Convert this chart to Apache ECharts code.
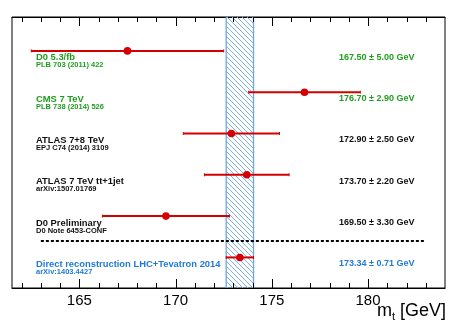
<!DOCTYPE html>
<html>
<head>
<meta charset="utf-8">
<script src="https://cdn.jsdelivr.net/npm/echarts@6/dist/echarts.min.js"></script>
<style>
  html, body { margin: 0; padding: 0; background: #fff; }
  #chart { width: 457px; height: 328px; }
</style>
</head>
<body>
<div id="chart"></div>
<script>
// measurements, top to bottom
const names = ['D0 5.3/fb', 'CMS 7 TeV', 'ATLAS 7+8 TeV', 'ATLAS 7 TeV tt+1jet', 'D0 Preliminary', 'Direct reconstruction LHC+Tevatron 2014']
const refs = ['PLB 703 (2011) 422', 'PLB 738 (2014) 526', 'EPJ C74 (2014) 3109', 'arXiv:1507.01769', 'D0 Note 6453-CONF', 'arXiv:1403.4427']
const masses = [167.5, 176.7, 172.9, 173.7, 169.5, 173.34]
const errors = [5.0, 2.9, 2.5, 2.2, 3.3, 0.71]
const labelColors = ['#1e9e1e', '#1e9e1e', '#111', '#111', '#111', '#1f7ad6']

// axis
const xMin = 161.5
const xMax = 184
const majorTicks = [165, 170, 175, 180]
const minorTicks = [162, 163, 164, 166, 167, 168, 169, 171, 172, 173, 174, 176, 177, 178, 179, 181, 182, 183]
const yMin = -0.82
const yMax = 5.74

// dotted separator above the combination
const sepRange = [163, 183]
const sepRow = 4.6

const FONT = '"Liberation Sans", Arial, Helvetica, sans-serif'
const RED = '#d40000'

/* 斜线填充 */
function makeHatch() {
  const s = 5
  const cv = document.createElement('canvas')
  cv.width = s
  cv.height = s
  const ctx = cv.getContext('2d')
  ctx.strokeStyle = '#7fb0e4'
  ctx.lineWidth = 1
  ctx.beginPath()
  ctx.moveTo(-1, -1); ctx.lineTo(s + 1, s + 1)
  ctx.moveTo(-1, s - 1); ctx.lineTo(1, s + 1)
  ctx.moveTo(s - 1, -1); ctx.lineTo(s + 1, 1)
  ctx.stroke()
  return cv
}

function xAxisOf(pos, withLabel) {
  return {
    type: 'value', position: pos, min: xMin, max: xMax, splitNumber: 5,
    axisLine: { show: true, onZero: false, lineStyle: { color: '#000', width: 1.2 } },
    splitLine: { show: false },
    axisTick: { show: false },
    axisLabel: {
      show: withLabel, fontSize: 15, fontFamily: FONT, margin: 5, color: '#000',
      showMinLabel: false, showMaxLabel: false
    }
  }
}

const chart = echarts.init(document.getElementById('chart'))
const hatch = makeHatch()
const comb = masses.length - 1

chart.setOption({
  animation: false,
  grid: { left: 12, right: 12, top: 17, bottom: 40, show: true, borderColor: '#000', borderWidth: 1 },
  xAxis: [xAxisOf('bottom', true), xAxisOf('top', false)],
  yAxis: { type: 'value', min: yMin, max: yMax, inverse: true, show: false },
  graphic: [
    {
      type: 'text', right: 11, top: 302,
      style: {
        text: '{m|m}{t|t}{m| [GeV]}',
        rich: {
          m: { fontSize: 18, fontFamily: FONT, fill: '#000', lineHeight: 22, verticalAlign: 'middle' },
          t: { fontSize: 11, fontFamily: FONT, fill: '#000', lineHeight: 22, verticalAlign: 'bottom' }
        }
      }
    }
  ],
  series: [
    {
      // 组合结果带
      type: 'custom',
      data: [[masses[comb] - errors[comb], masses[comb] + errors[comb]]],
      renderItem(params, api) {
        const cs = params.coordSys
        const x0 = api.coord([api.value(0), 0])[0]
        const x1 = api.coord([api.value(1), 0])[0]
        return {
          type: 'group',
          children: [
            { type: 'rect', shape: { x: x0, y: cs.y, width: x1 - x0, height: cs.height }, style: { fill: { image: hatch, repeat: 'repeat' } } },
            { type: 'line', shape: { x1: x0, y1: cs.y, x2: x0, y2: cs.y + cs.height }, style: { stroke: '#6ea6e0', lineWidth: 1.3 } },
            { type: 'line', shape: { x1: x1, y1: cs.y, x2: x1, y2: cs.y + cs.height }, style: { stroke: '#6ea6e0', lineWidth: 1.3 } }
          ]
        }
      }
    },
    {
      // 上下边框刻度（朝内）
      type: 'custom',
      z: 10,
      data: majorTicks.map(v => [v, 9]).concat(minorTicks.map(v => [v, 5])),
      renderItem(params, api) {
        const cs = params.coordSys
        const x = Math.round(api.coord([api.value(0), 0])[0])
        const len = api.value(1)
        return {
          type: 'group',
          children: [
            { type: 'rect', shape: { x: x, y: cs.y, width: 1, height: len }, style: { fill: '#000' } },
            { type: 'rect', shape: { x: x, y: cs.y + cs.height - len, width: 1, height: len }, style: { fill: '#000' } }
          ]
        }
      }
    },
    {
      type: 'line',
      symbol: 'none',
      lineStyle: { color: '#000', width: 2, type: [3, 2] },
      data: [[sepRange[0], sepRow], [sepRange[1], sepRow]]
    },
    {
      // 测量点
      type: 'custom',
      data: masses.map((m, i) => [m, errors[i], i]),
      renderItem(params, api) {
        const i = params.dataIndex
        const m = api.value(0)
        const e = api.value(1)
        const r = api.value(2)
        const c = api.coord([m, r])
        const lo = api.coord([m - e, r])
        const hi = api.coord([m + e, r])
        const x0 = params.coordSys.x
        const col = labelColors[i]
        return {
          type: 'group',
          children: [
            { type: 'line', shape: { x1: lo[0], y1: c[1], x2: hi[0], y2: c[1] }, style: { stroke: RED, lineWidth: 2 } },
            { type: 'line', shape: { x1: lo[0], y1: c[1] - 1.5, x2: lo[0], y2: c[1] + 1.5 }, style: { stroke: RED, lineWidth: 1 } },
            { type: 'line', shape: { x1: hi[0], y1: c[1] - 1.5, x2: hi[0], y2: c[1] + 1.5 }, style: { stroke: RED, lineWidth: 1 } },
            { type: 'circle', shape: { cx: c[0], cy: c[1], r: 3.8 }, style: { fill: RED } },
            { type: 'text', x: x0 + 24, y: c[1] + 7, style: { text: names[i], fill: col, font: 'bold 9.4px ' + FONT, align: 'left', verticalAlign: 'middle' } },
            { type: 'text', x: x0 + 24, y: c[1] + 14.5, style: { text: refs[i], fill: col, font: 'bold 7.5px ' + FONT, align: 'left', verticalAlign: 'middle' } },
            { type: 'text', x: x0 + 327, y: c[1] + 6.5, style: { text: m.toFixed(2) + ' \u00b1 ' + e.toFixed(2) + ' GeV', fill: col, font: 'bold 9px ' + FONT, align: 'left', verticalAlign: 'middle' } }
          ]
        }
      }
    }
  ]
})
</script>
</body>
</html>
